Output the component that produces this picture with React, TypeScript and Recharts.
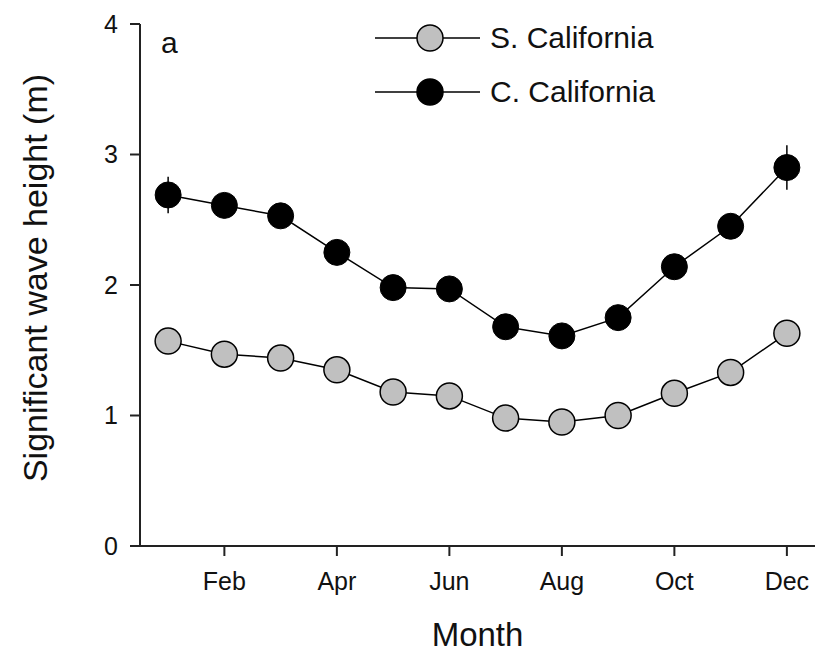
import { LineChart, Line, XAxis, YAxis, Legend, ErrorBar, Customized } from "recharts";

// monthly mean significant wave height (m)
const months = ["Jan", "Feb", "Mar", "Apr", "May", "Jun", "Jul", "Aug", "Sep", "Oct", "Nov", "Dec"];
const monthNumbers = [1, 2, 3, 4, 5, 6, 7, 8, 9, 10, 11, 12];
const southCal = [1.57, 1.47, 1.44, 1.35, 1.18, 1.15, 0.98, 0.95, 1.0, 1.17, 1.33, 1.63];
const centralCal = [2.69, 2.61, 2.53, 2.25, 1.98, 1.97, 1.68, 1.61, 1.75, 2.14, 2.45, 2.9];
const centralErr = [0.14, 0.06, 0.06, 0.06, 0.05, 0.05, 0.05, 0.05, 0.06, 0.07, 0.09, 0.17];

const xTicks = [2, 4, 6, 8, 10, 12];
const yTicks = [0, 1, 2, 3, 4];
const seriesNames = ["S. California", "C. California"];

const FONT = '"Liberation Sans", Arial, Helvetica, sans-serif';
const INK = "#111";
const AXIS = "#222";
const GREY = "#c0c0c0";

const data = monthNumbers.map((m, i) => ({
    month: m,
    south: southCal[i],
    central: centralCal[i],
    centralErr: centralErr[i],
}));

const legendFills = [GREY, "#000"];

function LegendBox() {
    return (
        <div style={{ fontFamily: FONT }}>
            {seriesNames.map((name, i) => (
                <div key={name} style={{ display: "flex", alignItems: "center", height: 54 }}>
                    <svg width={113} height={54}>
                        <line x1={3} x2={108} y1={27} y2={27} stroke="#000" strokeWidth={1.5} />
                        <circle cx={58} cy={27} r={13} fill={legendFills[i]} stroke="#000" strokeWidth={1.5} />
                    </svg>
                    <span style={{ marginLeft: 5, fontSize: 30, lineHeight: "54px", color: INK }}>{name}</span>
                </div>
            ))}
        </div>
    );
}

function Annotations() {
    return (
        <g fontFamily={FONT} fill={INK}>
            <text x={161} y={53} fontSize={30}>a</text>
            <text x={0} y={0} transform="translate(47,278) rotate(-90)" textAnchor="middle" fontSize={34}>
                Significant wave height (m)
            </text>
        </g>
    );
}

export default function App() {
    return (
        <div style={{ position: "absolute", left: 0, top: 0, width: 827, height: 663, background: "#fff" }}>
            <LineChart width={827} height={663} data={data} margin={{ top: 24, right: 12, bottom: 17, left: 0 }}>
                <XAxis
                    type="number"
                    dataKey="month"
                    domain={[0.5, 12.5]}
                    ticks={xTicks}
                    interval={0}
                    tickFormatter={(v) => months[v - 1]}
                    height={100}
                    axisLine={{ stroke: AXIS, strokeWidth: 2 }}
                    tickLine={{ stroke: AXIS, strokeWidth: 2 }}
                    tickSize={10}
                    tickMargin={16}
                    tick={{ fill: INK, fontSize: 25, fontFamily: FONT }}
                    label={{ value: "Month", position: "insideBottom", offset: 0, fill: INK, fontSize: 33, fontFamily: FONT }}
                />
                <YAxis
                    type="number"
                    domain={[0, 4]}
                    ticks={yTicks}
                    interval={0}
                    width={140}
                    axisLine={{ stroke: AXIS, strokeWidth: 2 }}
                    tickLine={{ stroke: AXIS, strokeWidth: 2 }}
                    tickSize={10}
                    tickMargin={12}
                    tick={{ fill: INK, fontSize: 25, fontFamily: FONT }}
                />
                <Legend
                    layout="vertical"
                    align="center"
                    verticalAlign="middle"
                    content={() => <LegendBox />}
                    wrapperStyle={{ top: 11, left: 372, width: 330, height: 108 }}
                />
                <Line
                    dataKey="central"
                    stroke="#000"
                    strokeWidth={1.5}
                    dot={{ r: 13, fill: "#000", stroke: "#000", strokeWidth: 1 }}
                    activeDot={false}
                    isAnimationActive={false}
                >
                    <ErrorBar dataKey="centralErr" direction="y" width={0} stroke="#000" strokeWidth={1.5} isAnimationActive={false} />
                </Line>
                <Line
                    dataKey="south"
                    stroke="#000"
                    strokeWidth={1.5}
                    dot={{ r: 13, fill: GREY, stroke: "#000", strokeWidth: 1.5 }}
                    activeDot={false}
                    isAnimationActive={false}
                />
                <Customized component={Annotations} />
            </LineChart>
        </div>
    );
}
